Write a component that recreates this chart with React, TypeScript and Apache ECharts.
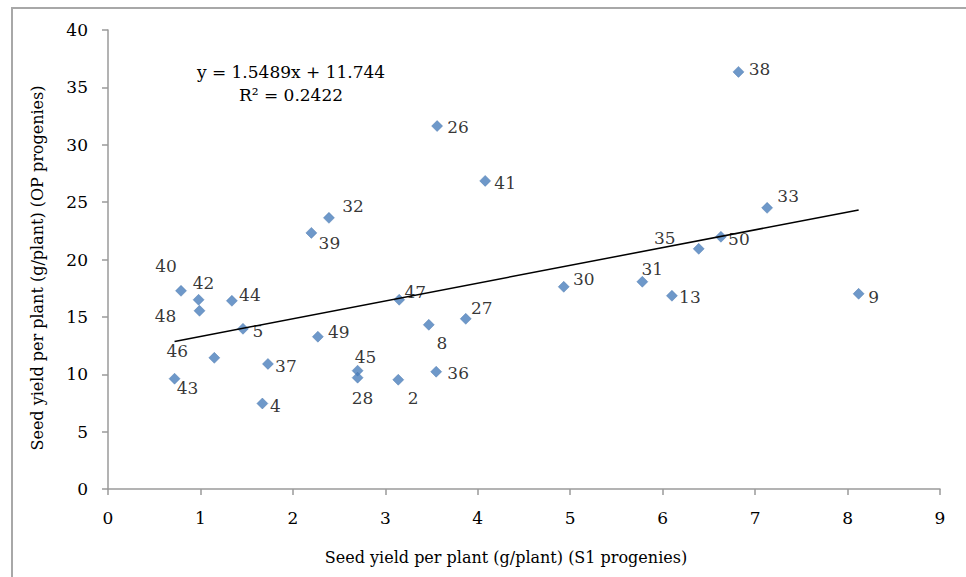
import React, { useEffect, useRef } from "react";
import * as echarts from "echarts";

// Progeny identifiers and their yields (g/plant)
const progenyIds = ["38", "26", "41", "33", "32", "39", "50", "35", "31", "30", "13", "9", "40", "42", "48", "44", "47", "5", "8", "27", "49", "46", "37", "43", "45", "28", "36", "2", "4"];
const s1Yield = [6.82, 3.56, 4.08, 7.13, 2.39, 2.2, 6.63, 6.39, 5.78, 4.93, 6.1, 8.12, 0.79, 0.98, 0.99, 1.34, 3.15, 1.46, 3.47, 3.87, 2.27, 1.15, 1.73, 0.72, 2.7, 2.7, 3.55, 3.14, 1.67];
const opYield = [36.35, 31.63, 26.85, 24.5, 23.63, 22.32, 21.98, 20.93, 18.06, 17.62, 16.84, 17.01, 17.27, 16.49, 15.53, 16.4, 16.49, 13.96, 14.31, 14.83, 13.27, 11.43, 10.9, 9.61, 10.31, 9.7, 10.22, 9.52, 7.45];

// Linear trendline shown on chart
const trendSlope = 1.5489;
const trendIntercept = 11.744;
const rSquared = 0.2422;

const xTicks = { min: 0, max: 9, interval: 1 };
const yTicks = { min: 0, max: 40, interval: 5 };

// label placement (pixel offsets of label centre from the marker)
const labelOffsets: Record<string, [number, number]> = {
  "38": [21, -3], "26": [21, 1], "41": [20, 2], "33": [21, -12], "32": [24, -12],
  "39": [18, 10], "50": [18, 2], "35": [-34, -11], "31": [10, -13], "30": [20, -8],
  "13": [18, 1], "9": [15, 3], "40": [-15, -25], "42": [5, -17], "48": [-34, 5],
  "44": [18, -6], "47": [16, -8], "5": [15, 2], "8": [13, 18], "27": [16, -11],
  "49": [21, -5], "46": [-37, -7], "37": [18, 2], "43": [13, 9], "45": [8, -14],
  "28": [5, 20], "36": [22, 1], "2": [15, 18], "4": [13, 2],
};

const FONT = "'DejaVu Serif', serif";

export default function App() {
  const ref = useRef<HTMLDivElement>(null);
  useEffect(() => {
    if (!ref.current) return;
    const chart = echarts.init(ref.current, undefined, { renderer: "svg" });
    const points = progenyIds.map((id, i) => ({
      name: id,
      value: [s1Yield[i], opYield[i]],
      label: { offset: labelOffsets[id] || [18, 0] },
    }));
    const xMin = Math.min(...s1Yield);
    const xMax = Math.max(...s1Yield);
    const trend = [
      [xMin, trendSlope * xMin + trendIntercept],
      [xMax, trendSlope * xMax + trendIntercept],
    ];
    const axisColor = "#9a9a9a";
    chart.setOption({
      animation: false,
      backgroundColor: "#fff",
      textStyle: { fontFamily: FONT },
      grid: { left: 108, top: 30, right: 26, bottom: 88, containLabel: false },
      xAxis: {
        type: "value",
        min: xTicks.min,
        max: xTicks.max,
        interval: xTicks.interval,
        axisLine: { show: true, lineStyle: { color: axisColor, width: 1.5 } },
        axisTick: { show: true, length: 6, lineStyle: { color: axisColor, width: 1.5 } },
        axisLabel: { fontFamily: FONT, fontSize: 17, color: "#000", margin: 20 },
        splitLine: { show: false },
      },
      yAxis: {
        type: "value",
        min: yTicks.min,
        max: yTicks.max,
        interval: yTicks.interval,
        axisLine: { show: true, lineStyle: { color: axisColor, width: 1.5 } },
        axisTick: { show: true, length: 6, lineStyle: { color: axisColor, width: 1.5 } },
        axisLabel: { fontFamily: FONT, fontSize: 17, color: "#000", margin: 20 },
        splitLine: { show: false },
      },
      graphic: [
        {
          type: "rect",
          shape: { x: 12, y: 8, width: 1000, height: 600 },
          style: { fill: "none", stroke: "#a8a8a8", lineWidth: 2 },
          silent: true,
          z: -10,
        },
        {
          type: "text",
          x: 291,
          y: 72,
          style: {
            text: `y = ${trendSlope}x + ${trendIntercept}`,
            font: `17px ${FONT}`,
            fill: "#000",
            align: "center",
            verticalAlign: "middle",
          },
        },
        {
          type: "text",
          x: 291,
          y: 95,
          style: {
            text: `R² = ${rSquared}`,
            font: `17px ${FONT}`,
            fill: "#000",
            align: "center",
            verticalAlign: "middle",
          },
        },
        {
          type: "text",
          x: 506,
          y: 557,
          style: {
            text: "Seed yield per plant (g/plant) (S1 progenies)",
            font: `16px ${FONT}`,
            fill: "#000",
            align: "center",
            verticalAlign: "middle",
          },
        },
        {
          type: "text",
          x: 37,
          y: 268,
          rotation: Math.PI / 2,
          style: {
            text: "Seed yield per plant (g/plant) (OP progenies)",
            font: `16px ${FONT}`,
            fill: "#000",
            align: "center",
            verticalAlign: "middle",
          },
        },
      ],
      series: [
        {
          type: "scatter",
          symbol: "diamond",
          symbolSize: 11,
          itemStyle: { color: "#4a7ebb", borderColor: "#3f6fa8", borderWidth: 0.5 },
          label: {
            show: true,
            position: "inside",
            formatter: "{b}",
            fontFamily: FONT,
            fontSize: 17,
            color: "#000",
            align: "center",
            verticalAlign: "middle",
          },
          data: points,
          z: 2,
        },
        {
          type: "line",
          data: trend,
          symbol: "none",
          lineStyle: { color: "#000", width: 1.5 },
          z: 3,
          silent: true,
        },
      ],
    });
    return () => chart.dispose();
  }, []);
  return <div ref={ref} style={{ position: "fixed", left: 0, top: 0, width: 966, height: 577 }} />;
}
